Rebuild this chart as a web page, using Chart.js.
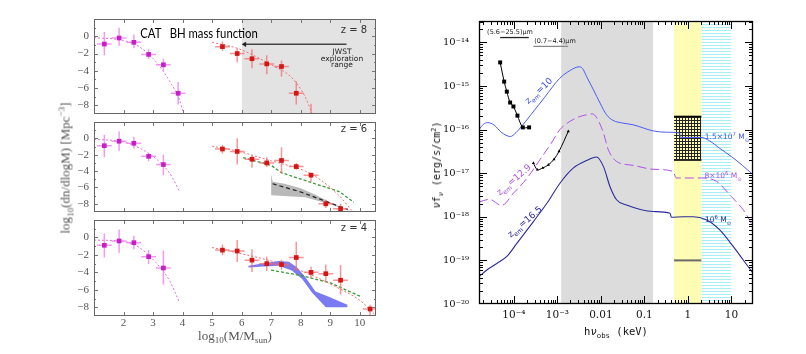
<!DOCTYPE html>
<html>
<head>
<meta charset="utf-8">
<script src="https://cdn.jsdelivr.net/npm/chart.js@4.4.1/dist/chart.umd.min.js"></script>
<style>
  body { margin: 0; background: #fff; }
  #wrap { position: relative; width: 806px; height: 354px; overflow: hidden; }
  canvas { position: absolute; }
  .t { position: absolute; white-space: nowrap; line-height: 1; transform: translate(-50%, -50%); }
  .t sub, .t sup { font-size: 70%; line-height: 0; }
  .sans { font-family: "DejaVu Sans", sans-serif; }
  .serif { font-family: "Liberation Serif", serif; }
  .mono { font-family: "DejaVu Sans Mono", monospace; }
</style>
</head>
<body>
<div id="wrap">
  <canvas id="c8" width="340" height="109" style="left:40px;top:9px"></canvas>
  <canvas id="c6" width="340" height="98" style="left:40px;top:118px"></canvas>
  <canvas id="c4" width="340" height="124" style="left:40px;top:216px"></canvas>
  <canvas id="sed" width="360" height="354" style="left:400px;top:0"></canvas>

  <!-- left figure texts -->
  <div class="t" style="left:199px;top:33px;font:13px Lato,sans-serif;color:#000;transform:translate(-50%,-50%) scaleX(0.87)">CAT&nbsp;&nbsp; BH mass function</div>
  <div class="t sans" style="left:354px;top:30px;font-size:10px;color:#333">z = 8</div>
  <div class="t sans" style="left:354px;top:129px;font-size:10px;color:#333">z = 6</div>
  <div class="t sans" style="left:354px;top:228px;font-size:10px;color:#333">z = 4</div>
  <div class="t sans" style="left:342px;top:59px;font-size:7.5px;line-height:6.6px;text-align:center;color:#222">JWST<br>exploration<br>range</div>
  <div class="t serif" style="left:65px;top:168px;font-size:13px;color:#555;transform:translate(-50%,-50%) rotate(-90deg)">log<sub>10</sub>(dn/dlogM) [Mpc<sup>−3</sup>]</div>
  <div class="t serif" style="left:235px;top:335px;font-size:13px;color:#555">log<sub>10</sub>(M/M<sub>sun</sub>)</div>

  <!-- right figure texts -->
  <div class="t mono" style="left:437px;top:165px;font-size:10px;color:#111;transform:translate(-50%,-50%) rotate(-90deg)"><i>ν</i>f<sub><i>ν</i></sub> (erg/s/cm<sup>2</sup>)</div>
  <div class="t mono" style="left:616px;top:331px;font-size:10.5px;color:#111">h<i>ν</i><sub>obs</sub> (keV)</div>
  <div class="t sans" style="left:510px;top:32px;font-size:6.5px;color:#222">(5.6−25.5)μm</div>
  <div class="t sans" style="left:555px;top:41px;font-size:6.5px;color:#222">(0.7−4.4)μm</div>
  <div class="t sans" style="left:539px;top:91px;font-size:9px;color:#4455ee;transform:translate(-50%,-50%) rotate(-43deg)">z<sub>em</sub>=10</div>
  <div class="t sans" style="left:514px;top:180px;font-size:9px;color:#b050e8;transform:translate(-50%,-50%) rotate(-41deg)">z<sub>em</sub>=12.9</div>
  <div class="t sans" style="left:525px;top:222px;font-size:9px;color:#2a2a9a;transform:translate(-50%,-50%) rotate(-41deg)">z<sub>em</sub>=16.5</div>
  <div class="t sans" style="left:727px;top:137px;font-size:7.5px;color:#4455ee">1.5×10<sup>7</sup> M<sub>⊙</sub></div>
  <div class="t sans" style="left:723px;top:176px;font-size:7.5px;color:#b050e8">8×10<sup>6</sup> M<sub>⊙</sub></div>
  <div class="t sans" style="left:718px;top:220px;font-size:7.5px;color:#2a2a9a">10<sup>6</sup> M<sub>⊙</sub></div>
</div>

<script>
// ---------- left figure: BH mass function ----------
const magX = [1.35, 1.85, 2.35, 2.85, 3.35, 3.85];
const redX = [5.35, 5.85, 6.35, 6.85, 7.35, 7.85, 8.35, 8.85, 9.35, 9.85, 10.35];
const massTicksX = [2, 3, 4, 5, 6, 7, 8, 9, 10];
const massTicksY = [-8, -6, -4, -2, 0];

// z = 8
const mag8Y = [-0.9, -0.2, -0.7, -2.1, -3.3, -6.6];
const mag8Lo = [-2.2, -1.1, -1.4, -2.6, -4.0, -7.9];
const mag8Hi = [0.5, 1.0, 0.2, -1.5, -2.6, -5.3];
const red8X = [5.35, 5.85, 6.35, 6.85, 7.35, 7.85, 8.35];
const red8Y = [-1.2, -2.0, -2.6, -3.2, -3.5, -6.6, -9.8];
const red8Lo = [-1.7, -3.0, -3.7, -4.4, -4.7, -7.9, -10.5];
const red8Hi = [-0.6, -1.4, -1.5, -2.2, -2.8, -5.2, -7.8];
const magFit8X = [1.0, 2.0, 2.55, 3.1, 3.55, 3.9, 4.06];
const magFit8Y = [-0.15, -0.5, -1.25, -2.95, -5.15, -7.4, -9.3];
const redFit8X = [5.0, 5.9, 7.0, 7.7, 8.15, 8.38];
const redFit8Y = [-0.7, -1.45, -3.3, -4.8, -7.0, -8.9];
const jwstArrowX = [6.1, 9.55];
const jwstArrowY = [-0.93, -0.93];

// z = 6
const mag6Y = [-0.9, -0.35, -0.6, -2.2, -3.2];
const mag6Lo = [-2.3, -1.5, -1.25, -2.8, -4.5];
const mag6Hi = [0.45, 0.85, 0.2, -1.8, -2.0];
const red6Y = [-1.3, -1.6, -2.55, -3.0, -2.7, -3.45, -4.5, -8.0, -8.6];
const red6Lo = [-1.85, -3.2, -3.6, -3.5, -4.3, -3.85, -5.3, -8.5, -9.0];
const red6Hi = [-0.8, 0.0, -2.05, -2.3, -1.1, -3.0, -4.2, -7.5, -8.0];
const magFit6X = [1.0, 2.0, 2.55, 3.1, 3.55, 3.9];
const magFit6Y = [-0.1, -0.45, -1.2, -2.5, -4.2, -6.5];
const redFit6X = [5.0, 5.9, 7.0, 8.15, 8.7, 9.3, 9.75];
const redFit6Y = [-0.95, -1.6, -2.75, -4.0, -5.15, -7.0, -8.9];
const greenFit6X = [6.05, 7.0, 7.35, 8.15, 9.3, 9.8];
const greenFit6Y = [-2.35, -3.3, -4.2, -5.15, -6.5, -7.8];
const grayBandX = [7.0, 7.05, 7.45, 8.0, 8.5, 9.0, 9.75, 9.0, 8.15, 7.0];
const grayBandY = [-4.4, -5.3, -5.55, -6.1, -6.9, -7.8, -9.0, -8.05, -7.2, -6.95];
const dashFit6X = [7.05, 8.0, 9.0, 9.6];
const dashFit6Y = [-5.55, -6.55, -7.9, -8.7];

// z = 4
const mag4Y = [-0.9, -0.4, -0.6, -2.2, -3.5];
const mag4Lo = [-2.3, -1.75, -1.35, -3.05, -5.4];
const mag4Hi = [0.45, 0.9, 0.2, -1.45, -1.5];
const red4X = [5.35, 5.85, 6.35, 6.85, 7.35, 7.85, 8.35, 8.85, 9.35, 10.35];
const red4Y = [-1.45, -1.55, -2.6, -3.0, -3.1, -2.3, -4.0, -4.15, -4.9, -8.2];
const red4Lo = [-2.05, -2.8, -3.95, -3.85, -3.7, -3.85, -4.65, -5.1, -6.55, -9.2];
const red4Hi = [-0.8, -0.3, -1.35, -2.2, -2.55, -0.5, -3.35, -3.1, -3.15, -7.7];
const magFit4X = [1.0, 2.0, 2.55, 3.1, 3.55, 3.9];
const magFit4Y = [-0.3, -0.45, -1.2, -2.9, -4.9, -7.5];
const redFit4X = [5.0, 5.9, 7.0, 8.15, 9.3, 10.0, 10.5];
const redFit4Y = [-1.15, -1.8, -2.7, -4.0, -5.85, -7.2, -8.8];
const greenFit4X = [7.0, 8.0, 9.0, 10.05];
const greenFit4Y = [-3.75, -4.35, -5.2, -6.8];
const blueBandX = [6.23, 6.6, 7.25, 7.6, 7.88, 8.16, 8.5, 8.95, 9.58, 9.58, 8.85, 8.38, 8.05, 7.7, 7.25, 6.6, 6.23];
const blueBandY = [-3.25, -3.05, -2.7, -2.78, -3.45, -4.55, -6.2, -6.8, -7.7, -8.0, -8.0, -6.3, -4.75, -3.8, -3.25, -3.35, -3.45];

// ---------- right figure: SED (log10 of keV, log10 of erg/s/cm2) ----------
const blueLogE = [-4.8, -4.7, -4.6, -4.45, -4.3, -4.18, -4.08, -3.95, -3.85, -3.6, -3.3, -2.95, -2.7, -2.5, -2.42, -2.33, -2.17, -2.02, -1.87, -1.72, -1.5, -1.26, -0.8, -0.5, -0.19, -0.17, 0.3, 0.5, 0.73, 1.0, 1.25, 1.5];
const blueLogF = [-16.0, -15.88, -15.84, -15.9, -16.05, -16.13, -16.16, -16.07, -15.96, -15.65, -15.27, -14.83, -14.64, -14.56, -14.6, -14.78, -15.09, -15.39, -15.66, -15.79, -15.85, -15.89, -16.03, -16.06, -16.08, -16.18, -16.18, -16.26, -16.43, -16.62, -16.82, -17.04];
const violetLogE = [-4.8, -4.56, -4.28, -4.01, -3.7, -3.4, -3.15, -2.94, -2.6, -2.33, -2.2, -2.1, -1.94, -1.83, -1.64, -1.26, -0.8, -0.34, -0.27, 0.31, 0.66, 1.0, 1.27, 1.5];
const violetLogF = [-17.66, -17.6, -17.74, -17.46, -17.12, -16.69, -16.33, -16.0, -15.75, -15.66, -15.64, -15.72, -16.08, -16.46, -16.73, -16.82, -16.91, -16.96, -17.11, -17.11, -17.19, -17.54, -17.84, -18.22];
const navyLogE = [-4.8, -4.62, -4.39, -4.16, -3.93, -3.55, -3.24, -2.94, -2.63, -2.33, -2.1, -1.94, -1.79, -1.64, -1.41, -0.8, -0.41, -0.38, -0.11, 0.12, 0.42, 0.73, 1.04, 1.27, 1.5];
const navyLogF = [-19.37, -19.22, -19.07, -18.91, -18.61, -18.11, -17.69, -17.23, -16.88, -16.71, -16.63, -16.85, -17.31, -17.61, -17.73, -17.88, -17.92, -18.01, -18.0, -18.0, -18.07, -18.3, -18.68, -18.99, -19.3];
const miriLogE = [-4.314, -4.222, -4.161, -4.085, -4.009, -3.917, -3.794, -3.649];
const miriLogF = [-14.46, -14.9, -15.13, -15.38, -15.47, -15.68, -15.95, -15.95];
const nircamLogE = [-3.55, -3.46, -3.335, -3.206, -3.076, -2.961, -2.748];
const nircamLogF = [-16.77, -16.92, -16.88, -16.81, -16.68, -16.5, -16.04];
const miriBandE = [4.86e-5, 2.21e-4];
const nircamBandE = [2.82e-4, 1.77e-3];
const grayZoneE = [1.22e-3, 0.159];
const yellowZoneE = [0.48, 2.04];
const cyanZoneE = [2.04, 10];
const xrayBoxF = [2e-16, 2e-17];
const xrayLimitF = 1e-19;
const sedTicksX = [1e-4, 1e-3, 0.01, 0.1, 1, 10];
const sedLabelsX = ['10⁻⁴', '10⁻³', '0.01', '0.1', '1', '10'];
const sedTicksY = [1e-20, 1e-19, 1e-18, 1e-17, 1e-16, 1e-15, 1e-14];
const sedLabelsY = ['10⁻²⁰', '10⁻¹⁹', '10⁻¹⁸', '10⁻¹⁷', '10⁻¹⁶', '10⁻¹⁵', '10⁻¹⁴'];
const sedMinX = 10 ** -4.8, sedMaxX = 10 ** 1.495;
const sedMinY = 1e-20, sedMaxY = 10 ** -13.51;

// ---------- helpers ----------
const pts = (xs, ys) => xs.map((x, i) => ({ x, y: ys[i] }));
const logPts = (xs, ys) => xs.map((x, i) => ({ x: 10 ** x, y: 10 ** ys[i] }));
const flat = (xs, y) => xs.map(x => ({ x, y }));

function curve(data, color, dash, width, smooth) {
  return { data, borderColor: color, borderDash: dash, borderWidth: width, pointRadius: 0, fill: false,
    tension: smooth ? 0.4 : 0, cubicInterpolationMode: smooth ? 'monotone' : 'default', order: 2 };
}
function marks(xs, ys, lo, hi, color, errColor) {
  return { data: pts(xs, ys), showLine: false, pointStyle: 'rect', pointRadius: 3.3, pointBackgroundColor: color,
    pointBorderWidth: 0, errLo: lo, errHi: hi, errX: 0.25, errColor, order: 0 };
}
function shape(xs, ys, color) {
  return { data: pts(xs, ys), borderWidth: 0, pointRadius: 0, fill: 'shape', backgroundColor: color, tension: 0, order: 4 };
}
// keep the plot box exactly where the axis widths put it
const noPadY = w => s => { s.width = w; s.paddingTop = 0; s.paddingBottom = 0; };
const noPadX = h => s => { if (h !== null) s.height = h; s.paddingLeft = 0; s.paddingRight = 0; };

// error bars, drawn just before each marker dataset
const errorBars = {
  id: 'errorBars',
  beforeDatasetDraw(chart, args) {
    const ds = chart.data.datasets[args.index];
    if (!ds.errLo) return;
    const { ctx, chartArea: a, scales: { x, y } } = chart;
    ctx.save();
    ctx.beginPath(); ctx.rect(a.left, a.top, a.width, a.height); ctx.clip();
    ctx.strokeStyle = ds.errColor; ctx.lineWidth = 1.5;
    ctx.beginPath();
    ds.data.forEach((p, i) => {
      const px = x.getPixelForValue(p.x), py = y.getPixelForValue(p.y);
      ctx.moveTo(px, y.getPixelForValue(ds.errLo[i])); ctx.lineTo(px, y.getPixelForValue(ds.errHi[i]));
      ctx.moveTo(x.getPixelForValue(p.x - ds.errX), py); ctx.lineTo(x.getPixelForValue(p.x + ds.errX), py);
    });
    ctx.stroke();
    ctx.restore();
  }
};

// box frame with inward ticks on all four sides
const frameTicks = {
  id: 'frameTicks',
  afterDatasetsDraw(chart, args, o) {
    const { ctx, chartArea: a, scales: { x, y } } = chart;
    ctx.save();
    ctx.strokeStyle = o.tickColor; ctx.lineWidth = 1;
    ctx.beginPath();
    const draw = (vals, len, horiz) => vals.forEach(v => {
      if (horiz) {
        const p = Math.round(x.getPixelForValue(v)) + 0.5;
        if (p <= a.left || p >= a.right) return;
        ctx.moveTo(p, a.bottom); ctx.lineTo(p, a.bottom - len);
        ctx.moveTo(p, a.top); ctx.lineTo(p, a.top + len);
      } else {
        const p = Math.round(y.getPixelForValue(v)) + 0.5;
        if (p <= a.top || p >= a.bottom) return;
        ctx.moveTo(a.left, p); ctx.lineTo(a.left + len, p);
        ctx.moveTo(a.right, p); ctx.lineTo(a.right - len, p);
      }
    });
    draw(o.xMajor, o.major, true); draw(o.xMinor, o.minor, true);
    draw(o.yMajor, o.major, false); draw(o.yMinor, o.minor, false);
    ctx.stroke();
    ctx.strokeStyle = o.frameColor; ctx.lineWidth = o.frameWidth;
    ctx.strokeRect(a.left + 0.5, a.top + 0.5, a.width - 1, a.height - 1);
    ctx.restore();
  }
};

Chart.defaults.font.family = '"DejaVu Serif", serif';
Chart.defaults.animation = false;

function massPanel(id, datasets, showX, padTop) {
  return new Chart(document.getElementById(id), {
    type: 'line',
    data: { datasets },
    options: {
      responsive: false, events: [],
      layout: { padding: { top: padTop, right: 3, bottom: 0, left: 0 } },
      plugins: {
        legend: { display: false }, tooltip: { enabled: false },
        frameTicks: { xMajor: massTicksX, xMinor: [], yMajor: massTicksY, yMinor: [-7, -5, -3, -1, 1],
          major: 4, minor: 2, tickColor: '#777', frameColor: '#666', frameWidth: 1 }
      },
      scales: {
        x: { type: 'linear', min: 1, max: 10.55, display: showX, grid: { display: false, drawTicks: false }, border: { display: false },
          afterBuildTicks: s => { s.ticks = massTicksX.map(v => ({ value: v })); },
          afterFit: noPadX(showX ? 24 : null),
          ticks: { autoSkip: false, maxRotation: 0, color: '#555', font: { size: 11, family: '"Liberation Serif", serif' }, padding: 1 } },
        y: { min: -9, max: 2, grid: { display: false, drawTicks: false }, border: { display: false },
          afterBuildTicks: s => { s.ticks = massTicksY.map(v => ({ value: v })); },
          afterFit: noPadY(54),
          ticks: { color: '#555', font: { size: 11, family: '"Liberation Serif", serif' }, padding: 5, callback: v => v === 0 ? '0' : '\u2212' + Math.abs(v) } }
      }
    },
    plugins: [errorBars, frameTicks]
  });
}

const MAG = '#c81ec8', MAGERR = 'rgba(238,120,238,0.75)', MAGFIT = '#e070e0';
const RED = '#d41515', REDERR = 'rgba(242,105,105,0.7)', REDFIT = '#f07070';
const GREEN = '#3a9a3a';

massPanel('c8', [
  marks(magX, mag8Y, mag8Lo, mag8Hi, MAG, MAGERR),
  marks(red8X, red8Y, red8Lo, red8Hi, RED, REDERR),
  curve(pts(magFit8X, magFit8Y), MAGFIT, [2, 2], 1, true),
  curve(pts(redFit8X, redFit8Y), REDFIT, [2, 2], 1, true),
  { data: pts(jwstArrowX, jwstArrowY), borderColor: '#444', borderWidth: 1.5, pointStyle: 'triangle', pointRotation: 270,
    pointRadius: [3, 0], pointBackgroundColor: '#222', pointBorderWidth: 0, order: 1 },
  { data: flat([6, 10.55], 2), borderWidth: 0, pointRadius: 0, fill: 'start', backgroundColor: '#e3e3e3', order: 9 }
], false, 10);

massPanel('c6', [
  marks(magX, mag6Y, mag6Lo, mag6Hi, MAG, MAGERR),
  marks(redX.slice(0, 9), red6Y, red6Lo, red6Hi, RED, REDERR),
  curve(pts(magFit6X, magFit6Y), MAGFIT, [2, 2], 1, true),
  curve(pts(redFit6X, redFit6Y), REDFIT, [2, 2], 1, true),
  curve(pts(greenFit6X, greenFit6Y), GREEN, [3, 2], 1.3, false),
  curve(pts(dashFit6X, dashFit6Y), '#222', [4, 3], 1.2, false),
  shape(grayBandX, grayBandY, '#b9b9b9')
], false, 0);

massPanel('c4', [
  marks(magX.slice(0, 5), mag4Y, mag4Lo, mag4Hi, MAG, MAGERR),
  marks(red4X, red4Y, red4Lo, red4Hi, RED, REDERR),
  curve(pts(magFit4X, magFit4Y), MAGFIT, [2, 2], 1, true),
  curve(pts(redFit4X, redFit4Y), REDFIT, [2, 2], 1, true),
  curve(pts(greenFit4X, greenFit4Y), GREEN, [3, 2], 1.3, false),
  shape(blueBandX, blueBandY, '#7a7af2')
], true, 0);

// ---------- SED panel ----------
function stripes() {
  const c = document.createElement('canvas'); c.width = 1; c.height = 3;
  const g = c.getContext('2d');
  g.fillStyle = '#fff'; g.fillRect(0, 0, 1, 3);
  g.fillStyle = '#a8eef4'; g.fillRect(0, 0, 1, 1);
  return g.createPattern(c, 'repeat');
}
function grid() {
  const c = document.createElement('canvas'); c.width = 3; c.height = 3;
  const g = c.getContext('2d');
  g.fillStyle = '#fffbb0'; g.fillRect(0, 0, 3, 3);
  g.fillStyle = '#222'; g.fillRect(0, 0, 3, 1); g.fillRect(0, 0, 1, 3);
  return g.createPattern(c, 'repeat');
}
function decadeMinors(lo, hi) {
  const out = [];
  for (let e = lo; e <= hi; e++) for (let k = 2; k <= 9; k++) out.push(k * 10 ** e);
  return out;
}

new Chart(document.getElementById('sed'), {
  type: 'line',
  data: {
    datasets: [
      { data: logPts(miriLogE, miriLogF), borderColor: '#000', borderWidth: 1, pointStyle: 'rect', pointRadius: 2.8,
        pointBackgroundColor: '#000', pointBorderWidth: 0, tension: 0.3, order: 0 },
      { data: logPts(nircamLogE, nircamLogF), borderColor: '#000', borderWidth: 1, pointStyle: 'triangle', pointRadius: 1.8,
        pointBackgroundColor: '#000', pointBorderWidth: 0, tension: 0.3, order: 0 },
      { data: flat(miriBandE, 1.29e-14), borderColor: '#222', borderWidth: 1.3, pointRadius: 0, order: 1 },
      { data: flat(nircamBandE, 8.1e-15), borderColor: '#888', borderWidth: 1.3, pointRadius: 0, order: 1 },
      curve(logPts(blueLogE, blueLogF), '#4a5cf2', [], 1, true),
      curve(logPts(violetLogE, violetLogF), '#b050e8', [9, 4], 1, true),
      curve(logPts(navyLogE, navyLogF), '#2a2a9a', [], 1.1, true),
      { data: flat(yellowZoneE, xrayLimitF), borderColor: '#6a6a6a', borderWidth: 2, pointRadius: 0, order: 3 },
      { data: flat(yellowZoneE, xrayBoxF[0]), borderColor: '#000', borderWidth: 1.5, pointRadius: 0, fill: '+1', backgroundColor: grid(), order: 3 },
      { data: flat(yellowZoneE, xrayBoxF[1]), borderColor: '#000', borderWidth: 1.5, pointRadius: 0, order: 3 },
      { data: flat(grayZoneE, sedMaxY), borderWidth: 0, pointRadius: 0, fill: 'start', backgroundColor: '#dcdcdc', order: 9 },
      { data: flat(yellowZoneE, sedMaxY), borderWidth: 0, pointRadius: 0, fill: 'start', backgroundColor: '#fffcb4', order: 9 },
      { data: flat(cyanZoneE, sedMaxY), borderWidth: 0, pointRadius: 0, fill: 'start', backgroundColor: stripes(), order: 9 }
    ]
  },
  options: {
    responsive: false, events: [],
    layout: { padding: { top: 21, right: 7, bottom: 0, left: 0 } },
    plugins: {
      legend: { display: false }, tooltip: { enabled: false },
      frameTicks: { xMajor: sedTicksX, xMinor: decadeMinors(-5, 1), yMajor: sedTicksY, yMinor: decadeMinors(-20, -14),
        major: 8, minor: 4, tickColor: '#000', frameColor: '#000', frameWidth: 1.3 }
    },
    scales: {
      x: { type: 'logarithmic', min: sedMinX, max: sedMaxX, grid: { display: false, drawTicks: false }, border: { display: false },
        afterBuildTicks: s => { s.ticks = sedTicksX.map(v => ({ value: v })); },
        afterFit: noPadX(50),
        ticks: { autoSkip: false, maxRotation: 0, color: '#111', font: { size: 10.5 }, padding: 5, callback: (v, i) => sedLabelsX[i] } },
      y: { type: 'logarithmic', min: sedMinY, max: sedMaxY, grid: { display: false, drawTicks: false }, border: { display: false },
        afterBuildTicks: s => { s.ticks = sedTicksY.map(v => ({ value: v })); },
        afterFit: noPadY(79),
        ticks: { autoSkip: false, color: '#111', font: { size: 10 }, padding: 10, callback: (v, i) => sedLabelsY[i] } }
    }
  },
  plugins: [frameTicks]
});
</script>
</body>
</html>
